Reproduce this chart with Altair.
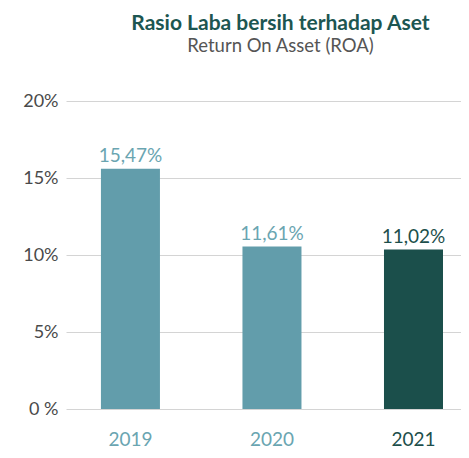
import altair as alt
import pandas as pd

years = ["2019", "2020", "2021"]
roa_bar = [15.6, 10.55, 10.35]
roa_label = ["15,47%", "11,61%", "11,02%"]
bar_colors = ["#629dab", "#629dab", "#1b4f4b"]
text_colors = ["#6aa5b1", "#6aa5b1", "#1d4f4b"]
y_ticks = [0, 5, 10, 15, 20]

df = pd.DataFrame({"year": years, "roa": roa_bar, "label": roa_label})

FONT = "Lato"

x = alt.X(
    "year:N",
    sort=years,
    scale=alt.Scale(paddingInner=0.583, paddingOuter=0.187, align=0.66),
    axis=alt.Axis(
        title=None,
        domain=False,
        ticks=False,
        tickSize=0,
        labelAngle=0,
        labelFont=FONT,
        labelFontSize=19,
        labelBaseline="alphabetic",
        labelPadding=36,
        labelColor=alt.condition("datum.label == '2021'", alt.value("#1d4f4b"), alt.value("#6aa5b1")),
        grid=False,
    ),
)

bars = alt.Chart(df).mark_bar().encode(
    x=x,
    y=alt.Y(
        "roa:Q",
        scale=alt.Scale(domain=[0, 20], nice=False),
        axis=alt.Axis(
            title=None,
            values=y_ticks,
            domain=False,
            ticks=False,
            tickSize=0,
            labelFont=FONT,
            labelFontSize=18,
            labelColor="#4a4a4a",
            labelPadding=8,
            labelExpr="datum.value == 0 ? '0 %' : datum.value + '%'",
            grid=True,
            gridColor="#d4d4d4",
            gridWidth=1,
        ),
    ),
    color=alt.Color("year:N", scale=alt.Scale(domain=years, range=bar_colors), legend=None),
)

texts = alt.Chart(df).mark_text(
    font=FONT, fontSize=19, baseline="alphabetic", dy=-7
).encode(
    x=alt.X("year:N", sort=years),
    y=alt.Y("roa:Q"),
    text="label:N",
    color=alt.Color("year:N", scale=alt.Scale(domain=years, range=text_colors), legend=None),
)

chart = alt.layer(bars, texts).resolve_scale(color="independent").properties(
    width=395,
    height=308,
    autosize=alt.AutoSizeParams(type="none"),
    padding={"left": 58, "top": 93, "right": 0, "bottom": 41},
    title=alt.TitleParams(
        text="Rasio Laba bersih terhadap Aset",
        subtitle="Return On Asset (ROA)",
        anchor="middle",
        font=FONT,
        fontSize=21,
        fontWeight="bold",
        color="#1d5651",
        subtitleFont=FONT,
        subtitleFontSize=18.5,
        subtitleColor="#555555",
        subtitlePadding=3,
        offset=37,
        dx=17,
    ),
).configure_view(stroke=None)

chart.save("out.html", embed_options={"renderer": "svg", "actions": False})
